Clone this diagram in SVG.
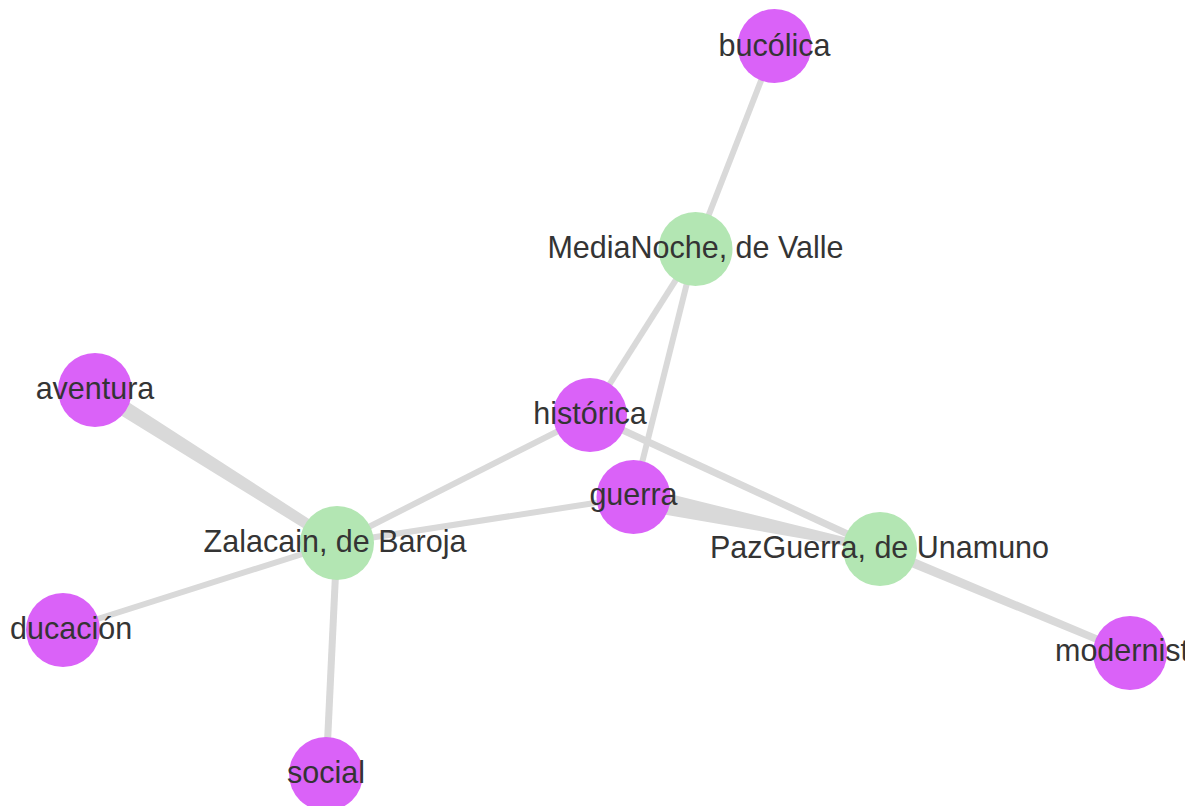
<svg xmlns="http://www.w3.org/2000/svg" width="1193" height="806" viewBox="0 0 1193 806">
  <style>
    .edge { stroke: #d9d9d9; stroke-linecap: butt; fill: none; }
    .band { fill: #d9d9d9; }
    .topic { fill: #da62f8; }
    .work { fill: #b3e6b3; }
    .lbl { font-family: "Liberation Sans", Arial, sans-serif; font-size: 30.5px; fill: #343434; text-anchor: middle; }
    .lbl-start { text-anchor: start; }
  </style>
  <defs>
    <clipPath id="view">
      <rect x="0" y="0" width="1185" height="806"/>
    </clipPath>
  </defs>
  <rect width="1193" height="806" fill="#ffffff"/>

  <g id="edges">
    <line class="edge" x1="774.5" y1="46" x2="695.5" y2="249" stroke-width="6"/>
    <line class="edge" x1="695.5" y1="249" x2="590" y2="415" stroke-width="6"/>
    <line class="edge" x1="695.5" y1="249" x2="633.5" y2="497" stroke-width="6"/>
    <line class="edge" x1="590" y1="415" x2="337" y2="543" stroke-width="6"/>
    <line class="edge" x1="590" y1="415" x2="880" y2="549" stroke-width="7"/>
    <line class="edge" x1="633.5" y1="497" x2="337" y2="543" stroke-width="6"/>
    <polygon class="band" points="636.5,509.7 630.5,484.3 880.6,546.1 879.4,551.9"/>
    <polygon class="band" points="90.7,396.8 99.3,383.2 339.7,538.8 334.3,547.2"/>
    <line class="edge" x1="337" y1="543" x2="63" y2="630" stroke-width="6"/>
    <line class="edge" x1="337" y1="543" x2="326" y2="774" stroke-width="7"/>
    <polygon class="band" points="878,553.6 882,544.4 1131.4,649.8 1128.6,656.2"/>
  </g>

  <g id="node-bucolica">
    <circle class="topic" cx="774.5" cy="46" r="37"/>
    <text class="lbl" x="774.5" y="56">bucólica</text>
  </g>
  <g id="node-medianoche">
    <circle class="work" cx="695.5" cy="249" r="37"/>
    <text class="lbl" x="695.5" y="258">MediaNoche, de Valle</text>
  </g>
  <g id="node-aventura">
    <circle class="topic" cx="95" cy="390" r="37"/>
    <text class="lbl" x="95" y="399">aventura</text>
  </g>
  <g id="node-historica">
    <circle class="topic" cx="590" cy="415" r="37"/>
    <text class="lbl" x="590" y="424">histórica</text>
  </g>
  <g id="node-zalacain">
    <circle class="work" cx="337" cy="543" r="37"/>
    <text class="lbl" x="335" y="552">Zalacain, de Baroja</text>
  </g>
  <g id="node-guerra">
    <circle class="topic" cx="633.5" cy="497" r="37"/>
    <text class="lbl" x="633.5" y="505">guerra</text>
  </g>
  <g id="node-pazguerra">
    <circle class="work" cx="880" cy="549" r="37"/>
    <text class="lbl" x="879.5" y="558">PazGuerra, de Unamuno</text>
  </g>
  <g id="node-educacion">
    <circle class="topic" cx="63" cy="630" r="37"/>
    <text class="lbl lbl-start" x="10" y="639">ducación</text>
  </g>
  <g id="node-modernista">
    <circle class="topic" cx="1130" cy="653" r="37"/>
    <text class="lbl lbl-start" x="1055" y="661" clip-path="url(#view)">modernist</text>
  </g>
  <g id="node-social">
    <circle class="topic" cx="326" cy="774" r="37"/>
    <text class="lbl" x="326" y="783">social</text>
  </g>
</svg>
